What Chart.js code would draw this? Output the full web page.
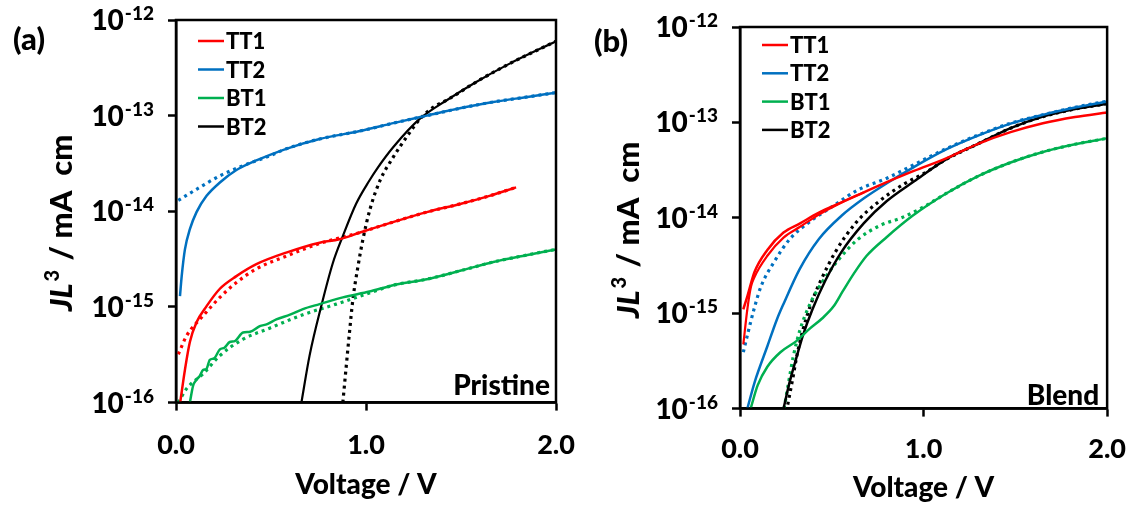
<!DOCTYPE html>
<html>
<head>
<meta charset="utf-8">
<script src="https://cdn.jsdelivr.net/npm/chart.js@4.4.1/dist/chart.umd.min.js"></script>
<style>
    html, body { margin: 0; padding: 0; background: #fff; }
    #wrap { position: relative; width: 1142px; height: 505px; overflow: hidden; }
    canvas { position: absolute; top: 0; }
    #panelA { left: 0; }
    #panelB { left: 571px; }
</style>
</head>
<body>
<div id="wrap">
    <canvas id="panelA" width="600" height="505"></canvas>
    <canvas id="panelB" width="571" height="505"></canvas>
</div>
<script>
// axis ticks
const xTicks = [0, 1, 2];
const yTicks = [1e-16, 1e-15, 1e-14, 1e-13, 1e-12];
const yTickSup = ['-16', '-15', '-14', '-13', '-12'];
const legendLabels = ['TT1', 'TT2', 'BT1', 'BT2'];
const seriesColors = ['#ff0000', '#0070c0', '#00b050', '#000000'];

// (a) Pristine: measured (solid) and fitted (dotted)
const aTT1V = [0.022, 0.047, 0.073, 0.108, 0.161, 0.231, 0.318, 0.423, 0.58, 0.756, 0.86, 0.968, 1.15, 1.32, 1.5, 1.65, 1.79];
const aTT1J = [1.0e-16, 2.2e-16, 4.3e-16, 6.9e-16, 1.02e-15, 1.55e-15, 2.1e-15, 2.8e-15, 3.7e-15, 4.7e-15, 5.1e-15, 6.0e-15, 7.8e-15, 9.8e-15, 1.2e-14, 1.45e-14, 1.78e-14];
const aTT1FitV = [0.012, 0.056, 0.143, 0.231, 0.318, 0.423, 0.58, 0.756, 0.968, 1.15, 1.32, 1.5, 1.65, 1.79];
const aTT1FitJ = [3.2e-16, 5.0e-16, 8.1e-16, 1.26e-15, 1.8e-15, 2.5e-15, 3.4e-15, 4.6e-15, 6.0e-15, 7.8e-15, 9.8e-15, 1.2e-14, 1.45e-14, 1.78e-14];
const aTT2V = [0.021, 0.03, 0.047, 0.073, 0.108, 0.161, 0.231, 0.318, 0.423, 0.58, 0.756, 0.968, 1.15, 1.32, 1.5, 1.67, 1.85, 2.0];
const aTT2J = [1.3e-15, 2.1e-15, 4.0e-15, 6.5e-15, 9.8e-15, 1.45e-14, 2.0e-14, 2.7e-14, 3.4e-14, 4.5e-14, 5.7e-14, 6.9e-14, 8.4e-14, 1.0e-13, 1.2e-13, 1.39e-13, 1.57e-13, 1.74e-13];
const aTT2FitV = [0.012, 0.108, 0.231, 0.353, 0.493, 0.58, 0.756, 0.968, 1.15, 1.32, 1.5, 1.67, 1.85, 2.0];
const aTT2FitJ = [1.3e-14, 1.7e-14, 2.35e-14, 3.0e-14, 3.8e-14, 4.5e-14, 5.7e-14, 6.9e-14, 8.4e-14, 1.0e-13, 1.2e-13, 1.39e-13, 1.57e-13, 1.74e-13];
const aBT1V = [0.073, 0.09, 0.108, 0.125, 0.143, 0.16, 0.178, 0.2, 0.231, 0.255, 0.283, 0.31, 0.353, 0.39, 0.441, 0.48, 0.528, 0.6, 0.668, 0.756, 0.878, 1.018, 1.15, 1.32, 1.5, 1.67, 1.85, 2.0];
const aBT1J = [1.0e-16, 1.5e-16, 1.74e-16, 1.9e-16, 2.2e-16, 2.25e-16, 2.8e-16, 2.9e-16, 3.6e-16, 3.75e-16, 4.3e-16, 4.4e-16, 5.4e-16, 5.5e-16, 6.3e-16, 6.6e-16, 7.4e-16, 8.3e-16, 9.5e-16, 1.07e-15, 1.26e-15, 1.45e-15, 1.7e-15, 1.95e-15, 2.4e-15, 2.95e-15, 3.5e-15, 4.0e-15];
const aBT1FitV = [0.012, 0.056, 0.143, 0.231, 0.353, 0.493, 0.668, 0.843, 1.018, 1.15, 1.32, 1.5, 1.67, 1.85, 2.0];
const aBT1FitJ = [1.0e-16, 1.4e-16, 2.0e-16, 3.1e-16, 4.6e-16, 6.0e-16, 8.3e-16, 1.07e-15, 1.4e-15, 1.7e-15, 1.95e-15, 2.4e-15, 2.95e-15, 3.5e-15, 4.0e-15];
const aBT2V = [0.66, 0.703, 0.765, 0.826, 0.878, 0.948, 1.018, 1.056, 1.144, 1.284, 1.425, 1.58, 1.756, 2.0];
const aBT2J = [1.0e-16, 3.1e-16, 1.03e-15, 2.9e-15, 5.5e-15, 1.2e-14, 2.1e-14, 2.75e-14, 4.7e-14, 9.3e-14, 1.45e-13, 2.25e-13, 3.5e-13, 6.0e-13];
const aBT2FitV = [0.878, 0.896, 0.913, 0.931, 0.957, 0.983, 1.021, 1.074, 1.144, 1.214, 1.29, 1.36, 1.425, 1.58, 1.756, 2.0];
const aBT2FitJ = [1.0e-16, 2.4e-16, 5.4e-16, 1.2e-15, 2.6e-15, 5.0e-15, 1.05e-14, 2.1e-14, 3.7e-14, 6.0e-14, 9.5e-14, 1.25e-13, 1.45e-13, 2.25e-13, 3.5e-13, 6.0e-13];

// (b) Blend
const bTT1V = [0.018, 0.04, 0.079, 0.149, 0.237, 0.325, 0.43, 0.553, 0.675, 0.85, 0.947, 1.123, 1.3, 1.474, 1.65, 1.825, 2.0];
const bTT1J = [1.1e-15, 1.5e-15, 2.7e-15, 4.6e-15, 7.0e-15, 8.7e-15, 1.13e-14, 1.45e-14, 1.85e-14, 2.6e-14, 3.1e-14, 4.2e-14, 6.0e-14, 7.9e-14, 9.8e-14, 1.14e-13, 1.27e-13];
const bTT1FitV = [0.018, 0.04, 0.06, 0.079, 0.149, 0.237, 0.325, 0.43, 0.553, 0.675];
const bTT1FitJ = [4.7e-16, 1.1e-15, 1.9e-15, 2.4e-15, 4.0e-15, 6.2e-15, 8.0e-15, 1.08e-14, 1.45e-14, 1.85e-14];
const bTT2V = [0.04, 0.08, 0.149, 0.2, 0.237, 0.325, 0.43, 0.553, 0.675, 0.8, 0.947, 1.123, 1.3, 1.474, 1.65, 1.825, 2.0];
const bTT2J = [1.0e-16, 1.9e-16, 4.5e-16, 8.5e-16, 1.25e-15, 2.9e-15, 6.0e-15, 1.05e-14, 1.6e-14, 2.3e-14, 3.4e-14, 5.2e-14, 7.3e-14, 9.7e-14, 1.2e-13, 1.43e-13, 1.66e-13];
const bTT2FitV = [0.018, 0.044, 0.079, 0.114, 0.184, 0.272, 0.377, 0.5, 0.64, 0.8, 0.947, 1.123, 1.3, 1.474, 1.65, 1.825, 2.0];
const bTT2FitJ = [3.9e-16, 6.3e-16, 1.15e-15, 1.9e-15, 3.4e-15, 6.0e-15, 9.0e-15, 1.3e-14, 1.95e-14, 2.6e-14, 3.6e-14, 5.3e-14, 7.4e-14, 9.8e-14, 1.2e-13, 1.44e-13, 1.67e-13];
const bBT1V = [0.058, 0.096, 0.149, 0.22, 0.307, 0.377, 0.447, 0.51, 0.56, 0.62, 0.69, 0.8, 0.94, 1.123, 1.3, 1.474, 1.65, 1.825, 2.0];
const bBT1J = [1.0e-16, 1.75e-16, 2.75e-16, 3.9e-16, 5.1e-16, 6.8e-16, 8.8e-16, 1.18e-15, 1.7e-15, 2.6e-15, 4.0e-15, 6.3e-15, 1.05e-14, 1.8e-14, 2.75e-14, 3.8e-14, 4.9e-14, 5.9e-14, 6.8e-14];
const bBT1FitV = [0.24, 0.263, 0.29, 0.325, 0.377, 0.447, 0.535, 0.64, 0.763, 0.88, 1.0, 1.123, 1.3, 1.474, 1.65, 1.825, 2.0];
const bBT1FitJ = [1.0e-16, 1.8e-16, 3.5e-16, 6.5e-16, 1.2e-15, 2.1e-15, 3.6e-15, 5.9e-15, 8.3e-15, 1.0e-14, 1.3e-14, 1.8e-14, 2.75e-14, 3.8e-14, 4.9e-14, 5.9e-14, 6.8e-14];
const bBT2V = [0.237, 0.272, 0.307, 0.342, 0.395, 0.465, 0.553, 0.675, 0.8, 0.947, 1.123, 1.3, 1.474, 1.65, 1.825, 2.0];
const bBT2J = [1.0e-16, 1.95e-16, 3.4e-16, 5.8e-16, 1.1e-15, 2.2e-15, 4.4e-15, 8.8e-15, 1.5e-14, 2.4e-14, 4.1e-14, 6.0e-14, 8.7e-14, 1.15e-13, 1.38e-13, 1.57e-13];
const bBT2FitV = [0.26, 0.29, 0.31, 0.342, 0.38, 0.44, 0.52, 0.63, 0.76, 0.9, 1.0, 1.123, 1.3, 1.474, 1.65, 1.825, 2.0];
const bBT2FitJ = [1.1e-16, 2.2e-16, 3.6e-16, 6.6e-16, 1.15e-15, 2.2e-15, 4.4e-15, 8.8e-15, 1.5e-14, 2.3e-14, 2.9e-14, 4.1e-14, 6.0e-14, 8.7e-14, 1.15e-13, 1.38e-13, 1.57e-13];

const FONT = 'Lato, "Open Sans", sans-serif';
const W = '900';

function pts(v, j) {
    return v.map((x, i) => ({ x: x, y: j[i] }));
}

function solidLine(color, v, j, w) {
    return { data: pts(v, j), borderColor: color, borderWidth: w || 2.5, pointRadius: 0,
             fill: false, cubicInterpolationMode: 'monotone', order: 1 };
}

function dottedLine(color, v, j) {
    return { data: pts(v, j), borderColor: color, borderWidth: 3.2, borderDash: [3, 4], pointRadius: 0,
             fill: false, cubicInterpolationMode: 'monotone', order: 2 };
}

function drawSup(ctx, right, baseY, base, sup, bigPx, smallPx) {
    ctx.font = `${W} ${smallPx}px ${FONT}`;
    const wSup = ctx.measureText(sup).width;
    ctx.font = `${W} ${bigPx}px ${FONT}`;
    const wBase = ctx.measureText(base).width;
    const x0 = right - wSup - wBase;
    ctx.textAlign = 'left';
    ctx.textBaseline = 'alphabetic';
    ctx.fillText(base, x0, baseY);
    ctx.font = `${W} ${smallPx}px ${FONT}`;
    ctx.fillText(sup, x0 + wBase + 1, baseY - 10);
}

// frame, superscript tick labels, titles, legend and panel tags
const decorPlugin = {
    id: 'decor',
    afterDraw(chart, args, o) {
        const { ctx, chartArea: ca } = chart;
        const ys = chart.scales.y;
        ctx.save();
        ctx.strokeStyle = '#000';
        ctx.lineWidth = 2.5;
        ctx.strokeRect(ca.left, ca.top, ca.right - ca.left, ca.bottom - ca.top);
        ctx.fillStyle = '#000';

        ys.ticks.forEach((t, i) => {
            const py = ys.getPixelForValue(t.value);
            drawSup(ctx, ca.left - 23, py + 10, '10', yTickSup[i], 28, 19);
        });

        // y title  JL³ / mA cm
        ctx.save();
        ctx.translate(o.yTitleX, o.yTitleY);
        ctx.rotate(-Math.PI / 2);
        const bi = `italic ${W} 31px ${FONT}`, b = `${W} 31px ${FONT}`, s = `${W} 20px ${FONT}`;
        ctx.font = bi; const wJL = ctx.measureText('JL').width;
        ctx.font = s; const w3 = ctx.measureText('3').width;
        ctx.font = b; const wRest = ctx.measureText(' / mA  cm').width;
        let x = -(wJL + w3 + wRest + 4) / 2;
        ctx.textBaseline = 'alphabetic';
        ctx.textAlign = 'left';
        ctx.font = bi; ctx.fillText('JL', x, 11); x += wJL + 2;
        ctx.font = s; ctx.fillText('3', x, -2); x += w3 + 2;
        ctx.font = b; ctx.fillText(' / mA  cm', x, 11);
        ctx.restore();

        ctx.font = `${W} 28px ${FONT}`;
        ctx.textAlign = 'center';
        ctx.textBaseline = 'middle';
        ctx.fillText('Voltage / V', (ca.left + ca.right) / 2, o.xTitleY);

        ctx.font = `${W} 31px ${FONT}`;
        ctx.fillText(o.letter, o.letterX, o.letterY);

        ctx.font = `${W} 28px ${FONT}`;
        ctx.textAlign = 'right';
        ctx.textBaseline = 'alphabetic';
        ctx.fillText(o.tag, ca.right - o.tagDx, ca.bottom - o.tagDy);

        ctx.font = `${W} 22px ${FONT}`;
        ctx.textAlign = 'left';
        ctx.textBaseline = 'middle';
        legendLabels.forEach((lab, i) => {
            const ly = ca.top + o.legendTop + i * o.legendStep;
            ctx.strokeStyle = seriesColors[i];
            ctx.lineWidth = 2.5;
            ctx.beginPath();
            ctx.moveTo(ca.left + 22, ly);
            ctx.lineTo(ca.left + 48, ly);
            ctx.stroke();
            ctx.fillText(lab, ca.left + 50, ly + 1);
        });
        ctx.restore();
    }
};

function makePanel(id, datasets, pad, tickPad, decor) {
    const axisLine = { color: '#000', width: 2.5 };
    const marks = { drawOnChartArea: false, tickLength: 8, tickWidth: 2.5, color: '#000' };
    return new Chart(document.getElementById(id), {
        type: 'line',
        data: { datasets: datasets },
        options: {
            responsive: false,
            animation: false,
            events: [],
            layout: { padding: pad },
            plugins: { legend: { display: false }, tooltip: { enabled: false }, decor: decor },
            scales: {
                x: {
                    type: 'linear', min: 0, max: 2,
                    afterBuildTicks: (s) => { s.ticks = xTicks.map(v => ({ value: v })); },
                    ticks: { callback: (v) => Number(v).toFixed(1), color: '#000', padding: tickPad,
                             maxRotation: 0, autoSkip: false,
                             font: { family: FONT, size: 27, weight: W } },
                    grid: marks, border: axisLine
                },
                y: {
                    type: 'logarithmic', min: 1e-16, max: 1e-12,
                    afterBuildTicks: (s) => { s.ticks = yTicks.map(v => ({ value: v })); },
                    ticks: { display: false },
                    grid: marks, border: axisLine
                }
            }
        },
        plugins: [decorPlugin]
    });
}

makePanel('panelA', [
    solidLine(seriesColors[0], aTT1V, aTT1J),
    solidLine(seriesColors[1], aTT2V, aTT2J),
    solidLine(seriesColors[2], aBT1V, aBT1J),
    solidLine(seriesColors[3], aBT2V, aBT2J, 2.2),
    dottedLine(seriesColors[0], aTT1FitV, aTT1FitJ),
    dottedLine(seriesColors[1], aTT2FitV, aTT2FitJ),
    dottedLine(seriesColors[2], aBT1FitV, aBT1FitJ),
    dottedLine(seriesColors[3], aBT2FitV, aBT2FitJ)
], { left: 168, right: 44, top: 20, bottom: 26 }, 18,
   { letter: '(a)', letterX: 29, letterY: 40, yTitleX: 61, yTitleY: 223, xTitleY: 485,
     tag: 'Pristine', tagDx: 6, tagDy: 8, legendTop: 21, legendStep: 28.5 });

makePanel('panelB', [
    solidLine(seriesColors[0], bTT1V, bTT1J),
    solidLine(seriesColors[0], bTT1FitV, bTT1FitJ, 2.2),
    solidLine(seriesColors[1], bTT2V, bTT2J),
    solidLine(seriesColors[2], bBT1V, bBT1J),
    solidLine(seriesColors[3], bBT2V, bBT2J),
    dottedLine(seriesColors[1], bTT2FitV, bTT2FitJ),
    dottedLine(seriesColors[2], bBT1FitV, bBT1FitJ),
    dottedLine(seriesColors[3], bBT2FitV, bBT2FitJ)
], { left: 161, right: 27, top: 27, bottom: 24 }, 16,
   { letter: '(b)', letterX: 40, letterY: 42, yTitleX: 57, yTitleY: 230, xTitleY: 488,
     tag: 'Blend', tagDx: 8, tagDy: 4, legendTop: 18, legendStep: 28.3 });
</script>
</body>
</html>
